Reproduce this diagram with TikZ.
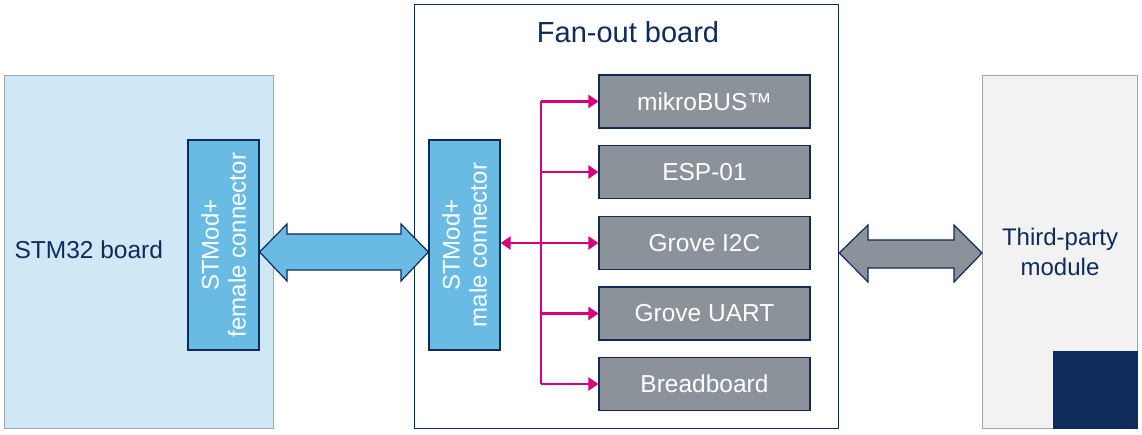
\documentclass[tikz,border=0pt]{standalone}
\usepackage{fontspec}
\setmainfont{Liberation Sans}
\usetikzlibrary{arrows.meta}
\definecolor{navy}{HTML}{0F2B5B}
\definecolor{lblue}{HTML}{D0E8F5}
\definecolor{mblue}{HTML}{6ABBE3}
\definecolor{gbox}{HTML}{8C9299}
\definecolor{pink}{HTML}{D6007A}
\definecolor{lgray}{HTML}{F2F2F2}
\begin{document}
\begin{tikzpicture}[x=1pt,y=-1pt,line width=1.2pt,
  gb/.style={draw=navy,fill=gbox,minimum width=211pt,minimum height=53pt,inner sep=0pt,text=white,font=\fontsize{24.5}{28}\selectfont},
  con/.style={draw=navy,fill=mblue,minimum width=71pt,minimum height=210pt,inner sep=0pt},
  pk/.style={draw=pink,line width=2.6pt,-{Triangle[length=10pt,width=13pt]}}]
\useasboundingbox (0,0) rectangle (1142,435);
\node[draw=gray!70,fill=lblue,minimum width=269pt,minimum height=353pt,anchor=north west,inner sep=0pt] (stm) at (4,75) {};
\node[navy,font=\fontsize{24.5}{28}\selectfont,anchor=west,inner sep=0pt] (stmt) at (14,250) {STM32 board};
\node[con] (fem) at (223.5,245) {};
\node[rotate=90,align=center,text=white,font=\fontsize{24}{27}\selectfont] at (fem) {STMod+\\female connector};
\node[draw=navy,fill=white,minimum width=424pt,minimum height=424pt,anchor=north west,inner sep=0pt] (fan) at (414,4) {};
\node[navy,font=\fontsize{29}{34}\selectfont] (fant) at (628,32) {Fan-out board};
\node[con] (male) at (464.5,245) {};
\node[rotate=90,align=center,text=white,font=\fontsize{24}{27}\selectfont] at (male) {STMod+\\male connector};
\node[gb] (b1) at (704.5,101.5) {mikroBUS™};
\node[gb] (b2) at (704.5,172) {ESP-01};
\node[gb] (b3) at (704.5,243) {Grove I2C};
\node[gb] (b4) at (704.5,313.5) {Grove UART};
\node[gb] (b5) at (704.5,384) {Breadboard};
\coordinate (top) at (541,101.5);
\coordinate (bot) at (541,384);
\draw[pink,line width=2.6pt] (top) -- (bot);
\foreach \b in {b1,b2,b3,b4,b5}{\draw[pk] (541,0 |- \b.west) -- (\b.west);}
\draw[pk] (541,243) -- (male.east |- b3);
\node[draw=gray!70,fill=lgray,minimum width=155pt,minimum height=353pt,anchor=north west,inner sep=0pt] (tp) at (982,75) {};
\node[fill=navy,minimum width=85pt,minimum height=78pt,anchor=south east,inner sep=0pt] (sq) at (tp.south east) {};
\node[navy,align=center,font=\fontsize{24}{30}\selectfont] (tpt) at (1060,252) {Third-party\\module};
\draw[navy,fill=mblue] (fem.east |- 0,252) -- (287,224) -- (287,234) -- (401,234) -- (401,224) -- (male.west |- 0,252) -- (401,281) -- (401,270) -- (287,270) -- (287,281) -- cycle;
\draw[navy,fill=gbox] (fan.east |- 0,253) -- (868,225) -- (868,240) -- (954,240) -- (954,225) -- (tp.west |- 0,253) -- (954,282) -- (954,268) -- (868,268) -- (868,282) -- cycle;
\end{tikzpicture}
\end{document}
